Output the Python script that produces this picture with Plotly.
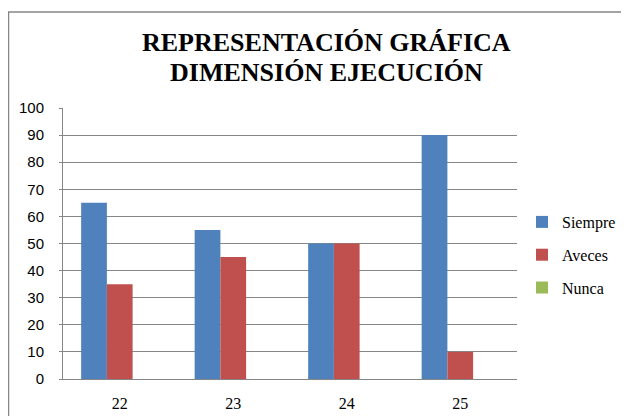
import plotly.graph_objects as go

categories = ["22", "23", "24", "25"]
siempre = [65, 55, 50, 90]
aveces = [35, 45, 50, 10]
nunca = [0, 0, 0, 0]
y_ticks = list(range(0, 101, 10))

series = [("Siempre", siempre, "#4F81BD"), ("Aveces", aveces, "#C0504D"), ("Nunca", nunca, "#9BBB59")]

fig = go.Figure()
for name, vals, col in series:
    fig.add_trace(go.Bar(x=categories, y=vals, name=name, marker_color=col,
                         marker_line_width=0, legendgroup=name))

# page is drawn with an 8px body margin, so figure coords = page coords - 8
W, H = 621, 408
l, r, t, b = 55, 112, 100, 37
pw, ph = W - l - r, H - t - b

def px_x(x):
    return (x - l) / pw

def px_y(y):
    return (H - b - y) / ph

title_font = dict(family="Liberation Serif", size=26, color="black")

fig.update_layout(
    width=W, height=H,
    margin=dict(l=l, r=r, t=t, b=b, autoexpand=False),
    paper_bgcolor="white", plot_bgcolor="white",
    barmode="group", bargap=0.32, bargroupgap=0,
    annotations=[
        dict(text="<b>REPRESENTACIÓN GRÁFICA</b>", x=px_x(318), y=px_y(35),
             xref="paper", yref="paper", xanchor="center", yanchor="middle",
             showarrow=False, font=title_font),
        dict(text="<b>DIMENSIÓN EJECUCIÓN</b>", x=px_x(318), y=px_y(64),
             xref="paper", yref="paper", xanchor="center", yanchor="middle",
             showarrow=False, font=title_font),
    ],
    legend=dict(x=px_x(514), y=px_y(197), xanchor="left", yanchor="top",
                font=dict(family="Liberation Serif", size=16, color="black"),
                tracegroupgap=9, bgcolor="rgba(0,0,0,0)"),
    showlegend=True,
    yaxis=dict(range=[0, 100], tickvals=y_ticks, showgrid=True, gridcolor="#868686",
               gridwidth=1, showline=True, linecolor="#868686", linewidth=1,
               ticks="outside", ticklen=3, tickcolor="#868686", ticklabelstandoff=12,
               tickfont=dict(family="Liberation Sans", size=15, color="black"),
               zeroline=False, fixedrange=True),
    xaxis=dict(showline=True, linecolor="#868686", linewidth=1,
               ticks="outside", ticklen=10, tickcolor="rgba(0,0,0,0)",
               tickfont=dict(family="Liberation Serif", size=16, color="black")),
    shapes=[dict(type="rect", xref="paper", yref="paper",
                 x0=px_x(0.5), x1=px_x(700), y0=px_y(460), y1=px_y(4),
                 line=dict(color="#868686", width=1.5), layer="below")],
)

fig.write_html("out.html")
